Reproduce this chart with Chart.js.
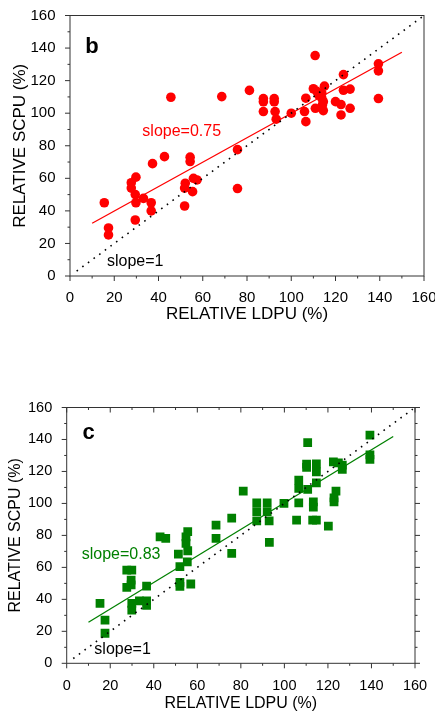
<!DOCTYPE html>
<html>
<head>
<meta charset="utf-8">
<script src="https://cdn.jsdelivr.net/npm/chart.js@4.4.1/dist/chart.umd.min.js"></script>
<style>
  body { margin: 0; background: #fff; }
  canvas { position: absolute; left: 0; }
</style>
</head>
<body>
<canvas id="chart-b" width="435" height="345" style="top:0"></canvas>
<canvas id="chart-c" width="435" height="335" style="top:380px"></canvas>
<script>
// tick labels on both axes
const axisTicks = [0, 20, 40, 60, 80, 100, 120, 140, 160];

// panel b: relative LDPU vs relative SCPU (red circles)
const ldpuB = [15.5, 17.4, 17.4, 27.7, 27.7, 29.8, 29.5, 29.8, 29.5, 33.2,
  36.7, 36.7, 37.3, 42.7, 45.6, 51.8, 51.8, 52.1, 54.3, 54.3,
  55.4, 55.8, 57.4, 68.6, 75.7, 75.7, 81.1, 87.4, 87.4, 87.4,
  92.3, 92.3, 92.7, 93.2, 100, 106.6, 106, 106.6, 110, 110.9,
  110.8, 111.5, 112.3, 113.8, 113.8, 114.5, 114.1, 114.5, 115, 120,
  122.5, 122.5, 123.6, 123.6, 126.6, 126.6, 139.4, 139.4, 139.4];
const scpuB = [45, 29.5, 25.2, 57.3, 54, 60.7, 50, 45, 34.4, 47.7,
  45, 40, 69, 73.3, 109.8, 43, 54, 57, 73, 70.3,
  51.8, 60, 59, 110.2, 77.6, 53.7, 114, 109, 107, 101,
  109, 107, 101, 96.3, 100, 109.2, 101, 94.8, 115, 103,
  135.4, 113.5, 111.2, 112.3, 109.2, 107.1, 105.1, 101.6, 116.6, 107.1,
  105.3, 98.9, 114.1, 123.7, 114.8, 103, 130.3, 126, 109];
const fitB = [24.9, 0.75];   // intercept, slope

// panel c: relative LDPU vs relative SCPU (green squares)
const ldpuC = [15.3, 17.6, 17.6, 27.6, 29.9, 27.6, 29.6, 29.6, 29.9, 29.9,
  33.4, 36.7, 36.7, 36.7, 42.9, 45.5, 51.3, 52, 52, 52,
  54.8, 54.8, 55.6, 55.6, 55.4, 57, 68.6, 68.6, 75.8, 75.8,
  81.1, 87.3, 87.3, 87.3, 92.1, 92.1, 93, 93.1, 99.8, 106.6,
  106.6, 106.6, 105.6, 110.2, 110.2, 110.7, 110.7, 113.3, 113.3, 113,
  114.7, 114.7, 114.7, 114.7, 120.2, 122.5, 124.8, 126.6, 126.6, 123.7,
  122.8, 122.8, 139.3, 139.3, 139.3];
const scpuC = [37.5, 27, 18.8, 58.3, 58.3, 47.5, 52, 49, 37.5, 33.3,
  39.1, 48.3, 39, 36.3, 79.1, 78.1, 68.3, 60.4, 50.6, 48.1,
  79.1, 75, 82.3, 70.4, 63.5, 49.6, 86.4, 78.1, 90.8, 68.7,
  107.7, 100.4, 94.8, 89.1, 100.4, 94.8, 89.1, 75.6, 100, 114.6,
  109.4, 100.4, 89.6, 124.6, 122.5, 138.1, 108.8, 101, 97.7, 89.6,
  89.6, 124.8, 119.8, 112.9, 85.8, 126, 125.4, 124, 121.3, 107.7,
  103.5, 101, 142.7, 130.4, 127.5];
const fitC = [17.4, 0.83];

const fitRange = [10, 150];
const identityRange = [3, 159];

Chart.defaults.font.family = '"Liberation Sans", Arial, sans-serif';
Chart.defaults.color = '#000';

function toPoints(xs, ys) {
  return xs.map((x, i) => ({ x: x, y: ys[i] }));
}
function fitPoints(fit) {
  return fitRange.map(x => ({ x: x, y: fit[0] + fit[1] * x }));
}

// frame, minor/major ticks and the text notes
const framePlugin = {
  id: 'frame',
  afterDraw(chart, args, opts) {
    const { ctx, chartArea: a, scales } = chart;
    ctx.save();
    ctx.strokeStyle = '#333';
    ctx.lineWidth = 1;
    ctx.strokeRect(a.left, a.top, a.right - a.left, a.bottom - a.top);
    ctx.beginPath();
    axisTicks.forEach(t => {
      [t, t + 10].forEach(v => {
        if (v > 160) return;
        const len = v % 20 === 0 ? 5 : 2.5;
        const px = scales.x.getPixelForValue(v);
        const py = scales.y.getPixelForValue(v);
        ctx.moveTo(px, a.bottom); ctx.lineTo(px, a.bottom + len);
        ctx.moveTo(a.left, py); ctx.lineTo(a.left - len, py);
        if (opts.allSides) {
          ctx.moveTo(a.right, py); ctx.lineTo(a.right + len, py);
          ctx.moveTo(px, a.top); ctx.lineTo(px, a.top + len);
        }
      });
    });
    ctx.stroke();
    (opts.notes || []).forEach(n => {
      ctx.font = n.font;
      ctx.fillStyle = n.color;
      ctx.textAlign = 'left';
      ctx.textBaseline = n.baseline || 'middle';
      ctx.fillText(n.text, scales.x.getPixelForValue(n.x), scales.y.getPixelForValue(n.y));
    });
    ctx.restore();
  }
};

function makeChart(id, cfg) {
  return new Chart(document.getElementById(id), {
    type: 'scatter',
    data: {
      datasets: [
        {
          type: 'line', data: identityRange.map(v => ({ x: v, y: v })),
          borderColor: '#000', borderWidth: 1.6, borderDash: [1.6, 5.4],
          pointRadius: 0, fill: false
        },
        {
          type: 'line', data: fitPoints(cfg.fit),
          borderColor: cfg.color, borderWidth: 1.3, pointRadius: 0, fill: false
        },
        {
          data: toPoints(cfg.xs, cfg.ys),
          pointStyle: cfg.marker, pointRadius: cfg.radius,
          backgroundColor: cfg.color, borderWidth: 0
        }
      ]
    },
    options: {
      responsive: false,
      devicePixelRatio: 1,
      animation: false,
      layout: { padding: cfg.padding },
      plugins: {
        legend: { display: false },
        tooltip: { enabled: false },
        frame: { notes: cfg.notes, allSides: cfg.allSides }
      },
      scales: {
        x: {
          type: 'linear', min: 0, max: 160,
          afterBuildTicks: s => { s.ticks = axisTicks.map(v => ({ value: v })); },
          afterFit: s => { s.height = cfg.xHeight; s.paddingLeft = 0; s.paddingRight = 0; },
          grid: { display: false },
          border: { display: false },
          ticks: { font: { size: cfg.tickSize }, padding: cfg.xTickPad, maxRotation: 0, autoSkip: false },
          title: { display: true, text: 'RELATIVE LDPU (%)', font: { size: cfg.titleSize },
            padding: { top: 0, bottom: cfg.xTitlePad } }
        },
        y: {
          type: 'linear', min: 0, max: 160,
          afterBuildTicks: s => { s.ticks = axisTicks.map(v => ({ value: v })); },
          afterFit: s => { s.width = cfg.yWidth; s.paddingTop = 0; s.paddingBottom = 0; },
          grid: { display: false },
          border: { display: false },
          ticks: { font: { size: cfg.tickSize }, padding: 6.5, autoSkip: false },
          title: { display: true, text: 'RELATIVE SCPU (%)', font: { size: cfg.titleSize },
            padding: { top: cfg.yTitlePad, bottom: 0 } }
        }
      }
    },
    plugins: [framePlugin]
  });
}

makeChart('chart-b', {
  xs: ldpuB, ys: scpuB, fit: fitB, color: '#ff0000', marker: 'circle', radius: 4.8,
  padding: { left: 0, right: 11, top: 15.5, bottom: 0 },
  xHeight: 69, yWidth: 70, tickSize: 15, titleSize: 17, xTickPad: 5, xTitlePad: 20, yTitlePad: 10,
  allSides: false,
  notes: [
    { text: 'b', x: 6.9, y: 137, font: 'bold 22px "Liberation Sans", Arial, sans-serif', color: '#000', baseline: 'alphabetic' },
    { text: 'slope=0.75', x: 32.7, y: 88.7, font: '16px "Liberation Sans", Arial, sans-serif', color: '#ff0000' },
    { text: 'slope=1', x: 16.7, y: 8.8, font: '16px "Liberation Sans", Arial, sans-serif', color: '#000' }
  ]
});

makeChart('chart-c', {
  xs: ldpuC, ys: scpuC, fit: fitC, color: '#008000', marker: 'rect', radius: 6.2,
  padding: { left: 0, right: 20, top: 27.5, bottom: 0 },
  xHeight: 51.7, yWidth: 66.7, tickSize: 14.5, titleSize: 16, xTickPad: 6, xTitlePad: 2, yTitlePad: 6,
  allSides: true,
  notes: [
    { text: 'c', x: 7.3, y: 140, font: 'bold 22px "Liberation Sans", Arial, sans-serif', color: '#000', baseline: 'alphabetic' },
    { text: 'slope=0.83', x: 6.9, y: 67.7, font: '16px "Liberation Sans", Arial, sans-serif', color: '#008000' },
    { text: 'slope=1', x: 12.7, y: 8.3, font: '16px "Liberation Sans", Arial, sans-serif', color: '#000' }
  ]
});
</script>
</body>
</html>
